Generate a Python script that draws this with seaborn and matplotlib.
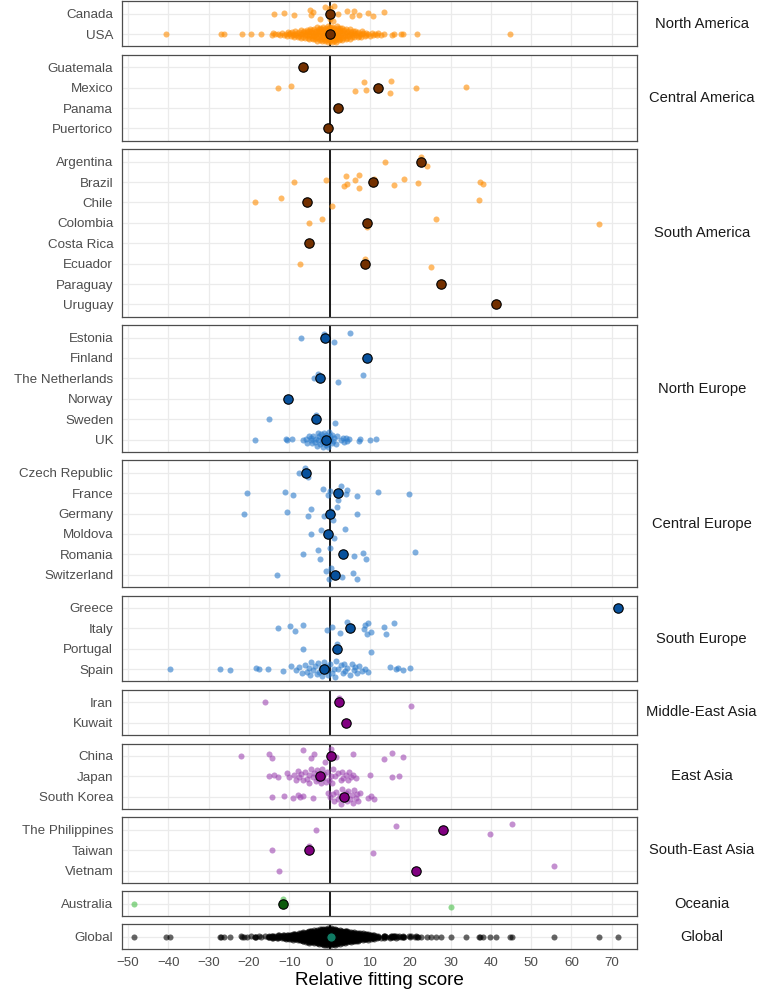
import numpy as np
import pandas as pd
import matplotlib
matplotlib.use("Agg")
import matplotlib.pyplot as plt
import seaborn as sns

sns.set_style("white")
plt.rcParams['font.family'] = ['Liberation Sans', 'DejaVu Sans']

#################################
# DATA
#################################

regions = ["North America", "Central America", "South America", "North Europe",
           "Central Europe", "South Europe", "Middle-East Asia", "East Asia",
           "South-East Asia", "Oceania"]

# North America
na_countries = ["Canada", "USA"]
na_centers = [0.0, 0.0]
canada = [-13.7, -11.4, -8.8, -4.5, -4.1, -4.8, -1.1, 1.2, 0.8, 4.2, 5.5, 6.1, 7.4,
          9.5, 10.7, 13.4, 0.0, 0.3, -0.2, 0.1, -2.5, 2.0, 0.0, -0.1]
usa = [-40.5, -26.9, -26.1, -21.7, -19.4, -17.1, -14.4, -14.0, -13.5, -12.9, -12.3,
       -11.8, -11.3, -10.9, -10.5, -10.1, -9.8, -9.4, -9.1, -8.8, -8.5, -8.2, -7.9,
       -7.6, -7.3, -7.0, -6.8, -6.5, -6.2, -6.0, -5.7, -5.5, -5.2, -5.0, -4.8, -4.5,
       -4.3, -4.1, -3.9, -3.7, -3.5, -3.3, -3.1, -2.9, -2.7, -2.5, -2.3, -2.1, -1.9,
       -1.7, -1.5, -1.3, -1.1, -0.9, -0.7, -0.5, -0.3, -0.1, 0.1, 0.3, 0.5, 0.7, 0.9,
       1.1, 1.3, 1.5, 1.7, 1.9, 2.1, 2.3, 2.5, 2.7, 2.9, 3.1, 3.3, 3.5, 3.8, 4.0, 4.3,
       4.6, 4.9, 5.2, 5.5, 5.8, 6.1, 6.4, 6.8, 7.1, 7.5, 7.9, 8.3, 8.7, 9.1, 9.6,
       10.1, 10.7, 11.3, 12.0, 12.8, 13.5, 15.5, 16.1, 17.7, 18.3, 21.7, 44.7,
       -4.4, -3.6, -2.8, -2.2, -1.6, -1.0, -0.6, -0.2, 0.0, 0.2, 0.4, 0.8, 1.2, 1.6,
       2.0, 2.6, 3.2, 4.2, 5.0, 6.0, -6.4, -5.4, 7.0, 8.0, -1.4, 1.4, -0.4, 0.6,
       -2.4, 2.4, -10.3, -9.6, -8.9, -8.3, -7.7, -7.2, -6.6, -6.1, -5.6, -5.1, -4.7,
       -4.2, -3.8, -3.4, -3.0, -2.6, -2.2, -1.8, -1.2, -0.8, -0.4, 0.0, 0.2, 0.6,
       1.0, 1.4, 1.8, 2.2, 2.6, 3.0, 3.4, 3.9, 4.4, 4.8, 5.3, 5.9, 6.5, 7.2, 8.1,
       9.0, 10.4, 11.7, -3.2, -2.0, -1.0, -0.5, 0.5, 1.0, 2.0, 3.0, -1.5, 1.5, -0.1,
       0.1, -2.7, 2.7, -4.0, 4.0, -5.0, 5.0]
na_points = [canada, usa]

# Central America
ca_countries = ["Guatemala", "Mexico", "Panama", "Puertorico"]
ca_centers = [-6.5, 12.0, 2.0, -0.3]
ca_points = [[-6.5],
             [-12.7, -9.5, 6.2, 8.5, 9.1, 12.0, 15.0, 15.3, 21.5, 33.8],
             [2.0],
             [-0.3]]

# South America
sa_countries = ["Argentina", "Brazil", "Chile", "Colombia", "Costa Rica",
                "Ecuador", "Paraguay", "Uruguay"]
sa_centers = [22.6, 10.7, -5.7, 9.3, -5.2, 8.9, 27.6, 41.3]
sa_points = [[13.7, 22.6, 24.2],
             [-8.9, -1.0, 3.5, 4.3, 4.0, 6.4, 7.2, 7.4, 11.0, 16.0, 18.5, 21.9,
              37.4, 38.1, 10.7],
             [-18.5, -12.0, 0.7, 37.0],
             [-5.0, -1.8, 26.5, 66.8, 9.3],
             [-5.2],
             [-7.3, 25.1, 8.9],
             [27.6],
             [41.3]]

# North Europe
ne_countries = ["Estonia", "Finland", "The Netherlands", "Norway", "Sweden", "UK"]
ne_centers = [-1.2, 9.4, -2.5, -10.4, -3.5, -1.0]
uk = [-18.5, -10.8, -10.5, -9.3, -6.5, -5.9, -5.5, -5.1, -4.7, -4.3, -4.0, -3.7,
      -3.4, -3.1, -2.8, -2.5, -2.2, -1.9, -1.6, -1.3, -1.0, -0.7, -0.4, -0.1, 0.2,
      0.5, 0.8, 1.1, 1.5, 1.9, 2.8, 3.2, 3.6, 4.0, 4.4, 4.9, 7.3, 7.6, 10.0, 11.5,
      -3.0, -2.0, -1.2, -0.5, 0.0, 0.6, -4.5, -2.6, -1.5, -0.9]
ne_points = [[-7.1, -1.3, 1.1, 5.1],
             [9.4],
             [-3.8, -2.8, 2.1, 8.2],
             [-10.4],
             [-15.1, -3.5, 1.4],
             uk]

# Central Europe
ce_countries = ["Czech Republic", "France", "Germany", "Moldova", "Romania",
                "Switzerland"]
ce_centers = [-5.8, 2.1, 0.2, -0.5, 3.3, 1.4]
ce_points = [[-7.5, -5.4, -6.1],
             [-20.5, -11.0, -9.1, -1.7, -0.5, 0.0, 2.8, 4.0, 4.4, 6.8, 11.9, 19.6, 2.1],
             [-21.3, -10.5, -5.4, -4.5, -1.5, 0.3, 0.8, 1.9, 6.7],
             [-4.6, -2.1, 1.2, 3.7],
             [-6.5, -2.8, -2.4, 0.2, 6.1, 8.2, 9.1, 21.2],
             [-13.0, -0.9, -0.2, 0.3, 3.0, 5.7, 6.8]]

# South Europe
se_countries = ["Greece", "Italy", "Portugal", "Spain"]
se_centers = [71.6, 5.1, 1.8, -1.4]
spain = [-39.6, -27.2, -24.8, -18.2, -17.5, -15.3, -11.6, -9.7, -8.4, -7.6, -6.8,
         -6.2, -5.7, -5.2, -4.6, -4.1, -3.6, -3.1, -2.6, -2.2, -1.8, -1.4, -1.0,
         -0.5, 0.0, 0.6, 1.2, 1.7, 2.2, 2.8, 3.3, 3.9, 4.4, 5.0, 5.6, 6.1, 6.7, 7.3,
         8.0, 8.9, 9.5, 15.1, 16.4, 16.9, 18.3, 19.9, -4.9, -2.9, -0.8, 1.4, 3.6, 6.4]
se_points = [[71.6],
             [-12.9, -9.8, -8.7, -6.5, -0.7, 0.5, 2.5, 4.2, 8.6, 8.9, 9.2, 9.5, 10.2,
              13.5, 14.0, 15.9],
             [-6.5, 1.8, 10.3],
             spain]

# Middle-East Asia
me_countries = ["Iran", "Kuwait"]
me_centers = [2.3, 4.0]
me_points = [[-16.1, 20.3, 2.3], [4.0]]

# East Asia
ea_countries = ["China", "Japan", "South Korea"]
ea_centers = [0.3, -2.4, 3.6]
japan = [-15.0, -13.7, -12.8, -10.6, -10.1, -8.8, -8.3, -7.6, -7.0, -6.5, -6.0,
         -5.5, -5.0, -4.6, -4.2, -3.8, -3.4, -3.0, -2.6, -2.2, -1.8, -1.4, -1.0,
         -0.6, -0.2, 0.3, 0.8, 1.4, 2.2, 2.8, 3.4, 4.0, 4.6, 5.2, 5.9, 6.6, 10.0,
         15.4, 17.3, -7.9, -5.2, -3.2, -1.6, 0.5, 3.0, 4.9]
south_korea = [-14.3, -11.4, -9.1, -7.9, -7.3, -6.6, -4.2, -0.4, 0.0, 0.9, 1.5, 2.1,
               2.6, 3.1, 3.6, 4.1, 4.6, 5.1, 5.6, 6.1, 6.6, 7.1, 7.5, 9.5, 10.3,
               11.0, 1.2, 2.9, 4.4, 5.9, 6.9]
ea_points = [[-22.0, -15.0, -14.3, -6.6, -4.5, -3.9, -1.1, 1.6, 0.3, 5.7, 13.6,
              15.5, 18.2],
             japan,
             south_korea]

# South-East Asia
sea_countries = ["The Philippines", "Taiwan", "Vietnam"]
sea_centers = [28.1, -5.0, 21.5]
sea_points = [[-3.5, 16.4, 39.9, 45.3], [-14.4, -5.0, 10.7], [-12.6, 55.7]]

# Oceania
oc_countries = ["Australia"]
oc_centers = [-11.6]
oc_points = [[-48.5, -11.6, 30.0]]

global_center = 0.3

region_countries = [na_countries, ca_countries, sa_countries, ne_countries,
                    ce_countries, se_countries, me_countries, ea_countries,
                    sea_countries, oc_countries]
region_points = [na_points, ca_points, sa_points, ne_points, ce_points, se_points,
                 me_points, ea_points, sea_points, oc_points]
region_centers = [na_centers, ca_centers, sa_centers, ne_centers, ce_centers,
                  se_centers, me_centers, ea_centers, sea_centers, oc_centers]

# Global panel = every point together
all_points = [v for pts in region_points for p in pts for v in p]
regions_all = regions + ["Global"]
countries_all = region_countries + [["Global"]]
points_all = region_points + [[all_points]]
centers_all = region_centers + [[global_center]]

# colours (small points, big median dot)
americas = ("#ff8c00", "#733000")
europe = ("#2b7bcb", "#08519c")
asia = ("#9d46b1", "#800080")
point_colors = [americas, americas, americas, europe, europe, europe,
                asia, asia, asia, ("#46be46", "#0b5a0b"), ("black", "#107a63")]


# quasirandom (beeswarm-like) vertical offsets, scaled by local density
def van_der_corput(k, base=2):
    q, denom = 0.0, 1.0
    while k:
        denom *= base
        k, r = divmod(k, base)
        q += r / denom
    return q


def quasi_offsets(vals, width=0.42):
    v = np.asarray(vals, float)
    n = len(v)
    if n < 2:
        return np.zeros(n)
    sd = v.std(ddof=1)
    iqr = np.subtract(*np.percentile(v, [75, 25]))
    spread = min(sd, iqr / 1.34) if iqr > 0 else sd
    bw = 0.9 * spread * n ** -0.2 if spread > 0 else 1.0
    dens = np.exp(-0.5 * ((v[:, None] - v[None, :]) / bw) ** 2).sum(1)
    dens = dens / dens.max()
    ranks = np.empty(n, int)
    ranks[np.argsort(v, kind="stable")] = np.arange(1, n + 1)
    vdc = np.array([van_der_corput(r) for r in ranks])
    return (vdc - 0.5) * 2 * width * dens


#################################
# PLOT
#################################
fig = plt.figure(figsize=(7.59, 9.91), dpi=100)
heights = [len(c) + 0.2 for c in countries_all]
gs = fig.add_gridspec(len(heights), 1, height_ratios=heights,
                      left=0.1603, right=0.8399, top=0.9985, bottom=0.0424,
                      hspace=0.11)

for i, region in enumerate(regions_all):
    ax = fig.add_subplot(gs[i])
    countries = countries_all[i]
    small_c, big_c = point_colors[i]

    frames = []
    for row, pts in enumerate(points_all[i]):
        frames.append(pd.DataFrame({"score": pts,
                                    "pos": row + quasi_offsets(pts)}))
    df = pd.concat(frames, ignore_index=True)
    centers = pd.DataFrame({"score": centers_all[i], "pos": range(len(countries))})

    ax.axvline(0, color="#1a1a1a", lw=1.4, zorder=2)
    sns.scatterplot(data=df, x="score", y="pos", s=19, color=small_c, alpha=0.6,
                    linewidth=0, ax=ax, zorder=3)
    sns.scatterplot(data=centers, x="score", y="pos", s=46, color=big_c,
                    edgecolor="black", linewidth=0.8, ax=ax, zorder=4)

    ax.set_xlim(-51.6, 76.4)
    ax.set_ylim(len(countries) - 0.4, -0.6)
    ax.set_xticks(range(-50, 71, 10))
    ax.set_yticks(range(len(countries)))
    ax.set_yticklabels(countries)
    ax.grid(True, color="#ebebeb", lw=0.9)
    ax.set_axisbelow(True)
    ax.set_xlabel("")
    ax.set_ylabel("")
    for s in ax.spines.values():
        s.set_color("#4d4d4d")
        s.set_linewidth(0.9)
    ax.tick_params(axis="y", length=3.5, width=0.8, color="#333333",
                   labelcolor="#4d4d4d", labelsize=9.6, pad=2.6)
    if i < len(regions_all) - 1:
        ax.tick_params(axis="x", length=0, labelbottom=False)
    else:
        ax.tick_params(axis="x", length=3.5, width=0.8, color="#333333",
                       labelcolor="#4d4d4d", labelsize=9.6, pad=2.2)
        ax.set_xlabel("Relative fitting score", fontsize=13.6, color="black",
                      labelpad=2.0)
    ax.text(1.1245, 0.5, region, transform=ax.transAxes, ha="center", va="center",
            fontsize=10.6, color="#1a1a1a")

fig.savefig("out.png", dpi=100)
